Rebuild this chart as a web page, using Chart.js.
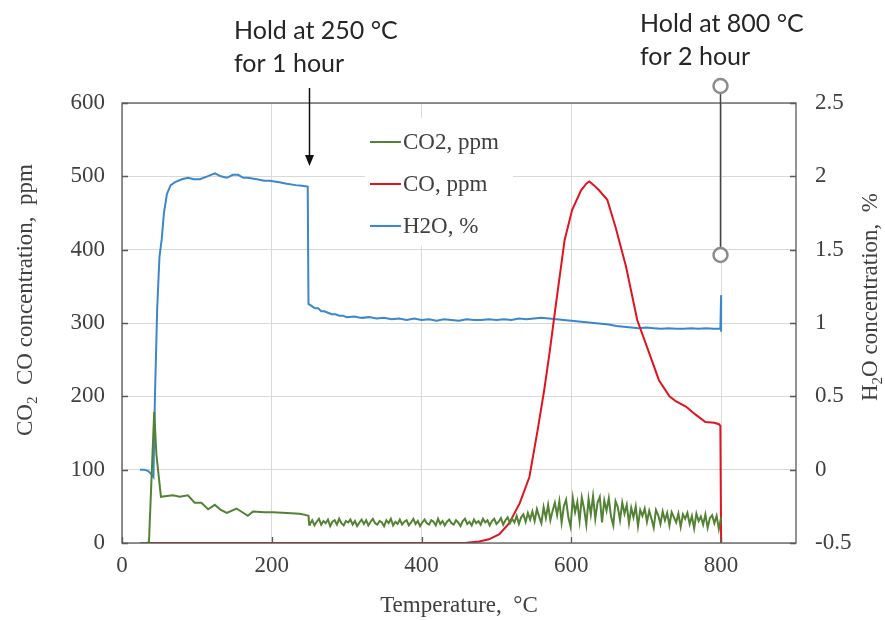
<!DOCTYPE html>
<html>
<head>
<meta charset="utf-8">
<script src="https://cdn.jsdelivr.net/npm/chart.js@4.4.0/dist/chart.umd.min.js"></script>
<style>
  body { margin: 0; background: #fff; }
  canvas { display: block; }
</style>
</head>
<body>
<canvas id="chart" width="885" height="620"></canvas>
<script>
// tick values
const xTicks = [0, 200, 400, 600, 800];
const leftTicks = [0, 100, 200, 300, 400, 500, 600];
const rightTicks = [-0.5, 0, 0.5, 1, 1.5, 2, 2.5];

// CO2, ppm (left axis)
const co2Temp = [24, 33, 36, 43, 46, 52, 60, 68, 77, 88, 97, 106, 115, 124, 132, 140, 153, 168, 175, 190, 202, 220, 237, 246, 249, 250,
  251, 254, 257, 260, 263, 266, 269, 272, 275, 278,
  281, 284, 287, 290, 293, 296, 299, 302, 305, 308,
  311, 314, 317, 320, 323, 326, 329, 332, 335, 338,
  341, 344, 347, 350, 353, 356, 359, 362, 365, 368,
  371, 374, 377, 380, 383, 386, 389, 392, 395, 398,
  401, 404, 407, 410, 413, 416, 419, 422, 425, 428,
  431, 434, 437, 440, 443, 446, 449, 452, 455, 458,
  461, 464, 467, 470, 473, 476, 479, 482, 485, 488,
  491, 494, 497, 500, 503, 506, 509, 512, 515, 518,
  521, 524, 527, 530, 533, 536, 539, 542, 545, 548,
  551, 554, 557, 560, 563, 566, 569, 572, 575, 578,
  581, 584, 587, 590, 593, 596, 599, 602, 605, 608,
  611, 614, 617, 620, 623, 626, 629, 632, 635, 638,
  641, 644, 647, 650, 653, 656, 659, 662, 665, 668,
  671, 674, 677, 680, 683, 686, 689, 692, 695, 698,
  701, 704, 707, 710, 713, 716, 719, 722, 725, 728,
  731, 734, 737, 740, 743, 746, 749, 752, 755, 758,
  761, 764, 767, 770, 773, 776, 779, 782, 785, 788,
  791, 794, 797, 800];
const co2Val = [0, 0, 1, 179, 120, 63, 64, 65, 63, 65, 55, 55, 46, 52, 45, 41, 47, 37, 43, 42, 42, 41, 40, 38, 37, 25,
  26, 31, 24, 29, 33, 25, 30, 27, 32, 23,
  29, 31, 25, 33, 27, 24, 30, 28, 32, 25,
  30, 23, 28, 32, 26, 31, 24, 29, 33, 27,
  25, 30, 28, 23, 31, 27, 33, 24, 29, 26,
  32, 25, 29, 31, 24, 28, 33, 26, 30, 23,
  28, 32, 27, 25, 31, 29, 24, 33, 26, 30,
  24, 29, 32, 27, 25, 31, 28, 23, 30, 33,
  26, 29, 24, 32, 27, 30, 25, 33, 28, 31,
  24, 30, 33, 26, 29, 34, 25, 31, 35, 27,
  33, 28, 37, 26, 35, 39, 29, 41, 32, 43,
  30, 46, 36, 27, 49, 34, 52, 31, 44, 55,
  38, 57, 28, 50, 59, 35, 22, 61, 42, 56,
  30, 62, 47, 25, 60, 39, 64, 33, 55, 63,
  28, 58, 44, 61, 36, 24, 57, 49, 31, 55,
  40, 52, 27, 48, 35, 50, 23, 45, 37, 47,
  29, 44, 33, 21, 45, 38, 26, 43, 31, 41,
  24, 42, 35, 28, 40, 22, 39, 33, 41, 26,
  37, 20, 40, 30, 36, 25, 39, 21, 34, 38,
  27, 37, 19, 35];

// CO, ppm (left axis)
const coTemp = [24, 437, 460, 477, 490, 504, 517, 531, 544, 555, 564, 571, 580, 591, 601, 613, 620, 624, 630, 637, 648, 659, 673, 688,
  704, 717, 731, 740, 753, 766, 779, 791, 797, 799, 800];
const coVal = [0, 0, 0.5, 2, 5, 12, 27, 54, 90, 154, 210, 260, 330, 413, 454, 481, 490, 493, 488, 481, 468, 431, 377, 304,
  259, 222, 200, 193, 186, 175, 165, 164, 162, 160, 0];

// H2O, % (right axis)
const h2oTemp = [24, 30, 35, 39, 42, 44, 47, 50, 53, 56, 60, 65, 71, 80, 88, 96, 104, 114, 124, 132, 140, 148, 155, 162, 168, 180,
  190, 197, 210, 220, 232, 240, 248, 249, 252, 255, 258, 262, 266, 270, 275, 280, 285, 290, 295, 300, 310, 320, 330, 340, 350,
  360, 370, 380, 390, 400, 410, 420, 430, 440, 450, 460, 470, 480, 490, 500, 510, 520, 530, 540, 550, 560, 570, 580, 590, 600,
  610, 620, 630, 640, 650, 660, 670, 680, 690, 700, 710, 720, 730, 740, 750, 760, 770, 780, 790, 799, 800, 800];
const h2oVal = [0, 0, -0.01, -0.03, -0.05, 0.5, 1.1, 1.45, 1.57, 1.75, 1.88, 1.94, 1.96, 1.98, 1.99, 1.98, 1.98, 2.0, 2.02, 2.0, 1.99, 2.01, 2.01, 1.99, 1.99, 1.98,
  1.97, 1.97, 1.96, 1.95, 1.94, 1.935, 1.93, 1.13, 1.12, 1.11, 1.1, 1.1, 1.08, 1.08, 1.07, 1.06, 1.06, 1.05, 1.05, 1.04, 1.045, 1.035, 1.04, 1.03, 1.035,
  1.025, 1.03, 1.02, 1.03, 1.02, 1.025, 1.015, 1.025, 1.02, 1.015, 1.025, 1.02, 1.02, 1.025, 1.02, 1.025, 1.02, 1.03, 1.025, 1.03, 1.035, 1.03, 1.025, 1.02, 1.015,
  1.01, 1.005, 1.0, 0.995, 0.99, 0.98, 0.975, 0.97, 0.965, 0.97, 0.965, 0.96, 0.965, 0.96, 0.96, 0.965, 0.96, 0.965, 0.96, 0.96, 1.19, 0.94];

const seriesNames = ['CO2, ppm', 'CO, ppm', 'H2O, %'];
const seriesColors = ['#548235', '#e0141e', '#3b87cc'];

const pts = (xs, ys) => xs.map((x, i) => ({ x: x, y: ys[i] }));

const serif = '"Liberation Serif", "Times New Roman", serif';
const sans = 'Lato, "Open Sans", sans-serif';
const textColor = '#404040';
const axisColor = '#595959';

// draws a string with subscript parts, centred on (0,0) of the current transform
function drawRich(ctx, parts, size) {
    const subSize = Math.round(size * 0.65);
    let total = 0;
    parts.forEach(p => {
        ctx.font = (p.sub ? subSize : size) + 'px ' + serif;
        p.w = ctx.measureText(p.t).width;
        total += p.w;
    });
    let x = -total / 2;
    ctx.textAlign = 'left';
    ctx.textBaseline = 'alphabetic';
    parts.forEach(p => {
        ctx.font = (p.sub ? subSize : size) + 'px ' + serif;
        ctx.fillText(p.t, x, p.sub ? size * 0.38 + 4 : size * 0.35);
        x += p.w;
    });
}

const decorPlugin = {
    id: 'decor',
    afterDraw(chart) {
        const ctx = chart.ctx;
        const area = chart.chartArea;
        const xs = chart.scales.x, ys = chart.scales.y, y1 = chart.scales.y1;
        ctx.save();

        // frame
        ctx.strokeStyle = axisColor;
        ctx.lineWidth = 1.3;
        ctx.strokeRect(area.left, area.top, area.right - area.left, area.bottom - area.top);

        // inner tick marks
        ctx.beginPath();
        leftTicks.forEach(v => {
            const p = Math.round(ys.getPixelForValue(v)) + 0.5;
            ctx.moveTo(area.left, p); ctx.lineTo(area.left + 6, p);
        });
        rightTicks.forEach(v => {
            const p = Math.round(y1.getPixelForValue(v)) + 0.5;
            ctx.moveTo(area.right, p); ctx.lineTo(area.right - 6, p);
        });
        xTicks.forEach(v => {
            const p = Math.round(xs.getPixelForValue(v)) + 0.5;
            ctx.moveTo(p, area.bottom); ctx.lineTo(p, area.bottom - 6);
        });
        ctx.stroke();

        // legend inside plot
        ctx.fillStyle = '#fff';
        ctx.fillRect(365, 118, 148, 128);
        ctx.font = '23px ' + serif;
        ctx.textAlign = 'left';
        ctx.textBaseline = 'middle';
        seriesNames.forEach((name, i) => {
            const ry = 142 + i * 42;
            ctx.strokeStyle = seriesColors[i];
            ctx.lineWidth = 2;
            ctx.beginPath();
            ctx.moveTo(370, ry); ctx.lineTo(401, ry);
            ctx.stroke();
            ctx.fillStyle = textColor;
            ctx.fillText(name, 403, ry + 1);
        });

        // axis titles
        ctx.fillStyle = textColor;
        ctx.save();
        ctx.translate(24, 300);
        ctx.rotate(-Math.PI / 2);
        drawRich(ctx, [{ t: 'CO' }, { t: '2', sub: true }, { t: '  CO concentration,  ppm' }], 23);
        ctx.restore();

        ctx.save();
        ctx.translate(869, 297);
        ctx.rotate(-Math.PI / 2);
        drawRich(ctx, [{ t: 'H' }, { t: '2', sub: true }, { t: 'O concentration,  %' }], 23);
        ctx.restore();

        ctx.save();
        ctx.translate(459, 604);
        drawRich(ctx, [{ t: 'Temperature,  °C' }], 23);
        ctx.restore();

        // hold annotations
        ctx.font = '25px ' + sans;
        ctx.textBaseline = 'alphabetic';
        ctx.textAlign = 'left';
        ctx.fillStyle = '#262626';
        ctx.fillText('Hold at 250 °C', 234, 39);
        ctx.fillText('for 1 hour', 234, 72);
        ctx.fillText('Hold at 800 °C', 640, 32);
        ctx.fillText('for 2 hour', 640, 65);

        // arrow at 250
        const ax = Math.round(xs.getPixelForValue(250)) + 0.5;
        ctx.strokeStyle = '#111';
        ctx.lineWidth = 1.5;
        ctx.beginPath();
        ctx.moveTo(ax, 88); ctx.lineTo(ax, 157);
        ctx.stroke();
        ctx.fillStyle = '#111';
        ctx.beginPath();
        ctx.moveTo(ax - 4.5, 155); ctx.lineTo(ax + 4.5, 155); ctx.lineTo(ax, 166);
        ctx.closePath();
        ctx.fill();

        // pin at 800
        const hx = Math.round(xs.getPixelForValue(800)) - 0.5;
        ctx.strokeStyle = '#444';
        ctx.lineWidth = 1.5;
        ctx.beginPath();
        ctx.moveTo(hx, 86); ctx.lineTo(hx, 255);
        ctx.stroke();
        [86, 255].forEach(cy => {
            ctx.beginPath();
            ctx.arc(hx, cy, 7, 0, Math.PI * 2);
            ctx.fillStyle = '#fff';
            ctx.fill();
            ctx.strokeStyle = '#8c8c8c';
            ctx.lineWidth = 2.5;
            ctx.stroke();
        });

        ctx.restore();
    }
};

const lineStyle = (color) => ({
    borderColor: color,
    backgroundColor: color,
    borderWidth: 2,
    pointRadius: 0,
    tension: 0,
    fill: false
});

new Chart(document.getElementById('chart').getContext('2d'), {
    type: 'line',
    data: {
        datasets: [
            Object.assign({ label: seriesNames[0], data: pts(co2Temp, co2Val), yAxisID: 'y' }, lineStyle(seriesColors[0])),
            Object.assign({ label: seriesNames[1], data: pts(coTemp, coVal), yAxisID: 'y' }, lineStyle(seriesColors[1])),
            Object.assign({ label: seriesNames[2], data: pts(h2oTemp, h2oVal), yAxisID: 'y1' }, lineStyle(seriesColors[2]))
        ]
    },
    options: {
        responsive: false,
        animation: false,
        layout: { padding: { top: 103, left: 0, right: 0, bottom: 0 } },
        plugins: {
            legend: { display: false },
            tooltip: { enabled: false }
        },
        scales: {
            x: {
                type: 'linear',
                min: 0,
                max: 900,
                afterBuildTicks: s => { s.ticks = xTicks.map(v => ({ value: v })); },
                afterFit: s => { s.height = 77; },
                border: { display: false },
                grid: { color: '#d9d9d9', drawTicks: false },
                ticks: { font: { family: serif, size: 23 }, color: textColor, padding: 9 }
            },
            y: {
                position: 'left',
                min: 0,
                max: 600,
                afterBuildTicks: s => { s.ticks = leftTicks.map(v => ({ value: v })); },
                afterFit: s => { s.width = 122; },
                border: { display: false },
                grid: { color: '#d9d9d9', drawTicks: false },
                ticks: { font: { family: serif, size: 23 }, color: textColor, padding: 17 }
            },
            y1: {
                position: 'right',
                min: -0.5,
                max: 2.5,
                afterBuildTicks: s => { s.ticks = rightTicks.map(v => ({ value: v })); },
                afterFit: s => { s.width = 89; },
                border: { display: false },
                grid: { drawOnChartArea: false, drawTicks: false },
                ticks: { font: { family: serif, size: 23 }, color: textColor, padding: 19, callback: v => String(v) }
            }
        }
    },
    plugins: [decorPlugin]
});
</script>
</body>
</html>
